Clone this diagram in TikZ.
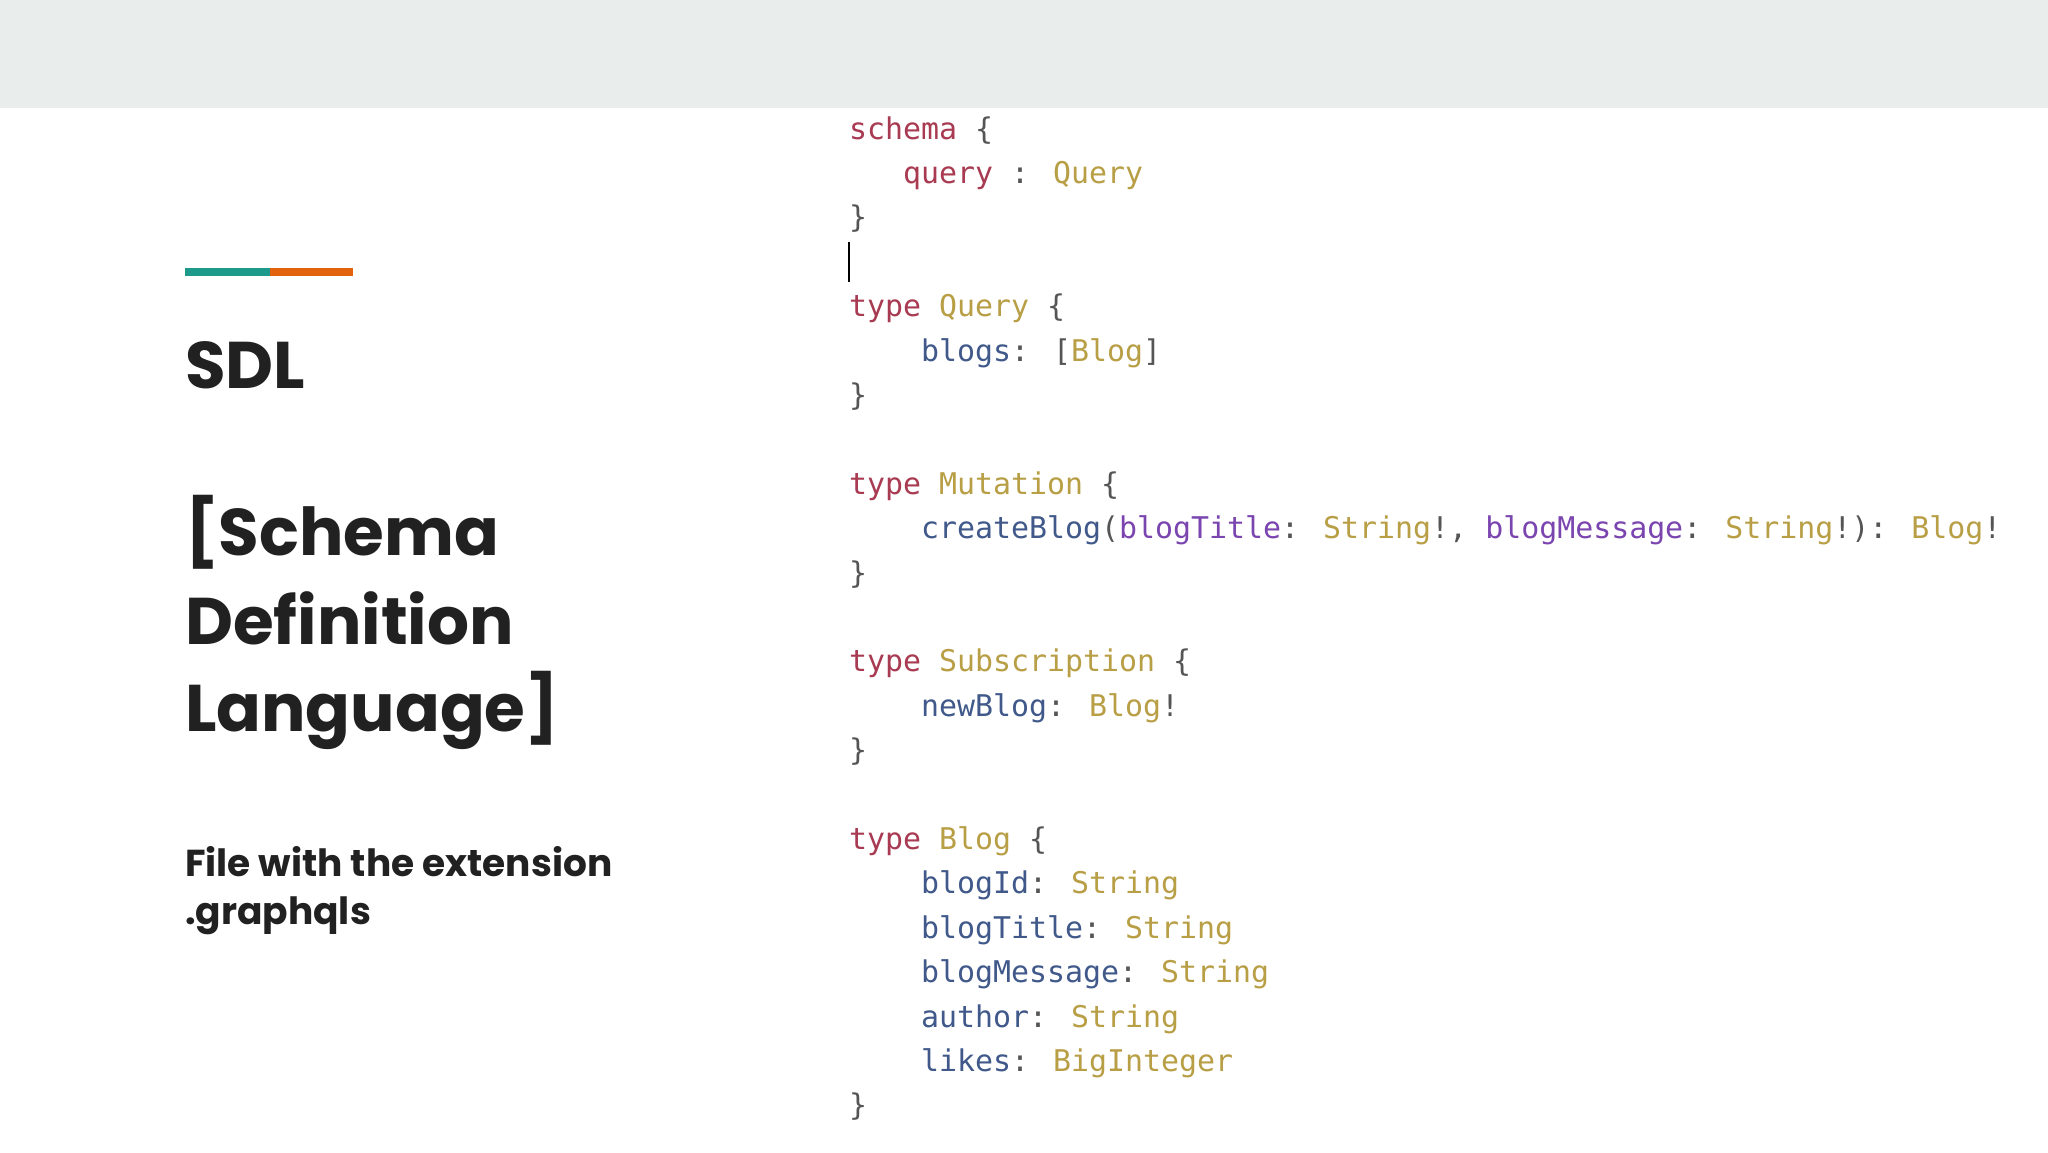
\documentclass[tikz,border=0pt]{standalone}
\usepackage{fontspec}
\setmainfont{Poppins}
\newfontfamily\codefont{DejaVu Sans Mono}
\definecolor{band}{HTML}{E9EEED}
\definecolor{teal}{HTML}{1E9A8C}
\definecolor{orng}{HTML}{E3620E}
\definecolor{kw}{HTML}{A83A52}
\definecolor{ty}{HTML}{B89E45}
\definecolor{fld}{HTML}{40598A}
\definecolor{arg}{HTML}{7B45B0}
\definecolor{pun}{HTML}{555555}
\definecolor{ink}{HTML}{212121}
\newcommand{\K}[1]{\textcolor{kw}{#1}}
\newcommand{\T}[1]{\textcolor{ty}{#1}}
\newcommand{\F}[1]{\textcolor{fld}{#1}}
\newcommand{\A}[1]{\textcolor{arg}{#1}}
\begin{document}
\begin{tikzpicture}[x=1pt,y=-1pt,
  code/.style={anchor=base west,inner sep=0pt,font=\codefont\fontsize{29.9}{36}\selectfont,text=pun},
  ttl/.style={anchor=base west,inner sep=0pt,font=\fontsize{66}{80}\selectfont\bfseries,text=ink},
  sub/.style={anchor=base west,inner sep=0pt,font=\fontsize{37.5}{44}\selectfont\bfseries,text=ink}]
\useasboundingbox (0,0) rectangle (2048,1152);
\fill[white] (0,0) rectangle (2048,1152);
\fill[band] (0,0) rectangle (2048,108);
\fill[teal] (185,268) rectangle (270,276);
\fill[orng] (270,268) rectangle (353,276);
\node[ttl] (t1) at (185,388) {SDL};
\node[ttl] (t2) at (185,555) {[Schema};
\node[ttl] (t3) at (185,644) {Definition};
\node[ttl] (t4) at (185,731) {Language]};
\node[sub] (s1) at (185,876) {File with the extension};
\node[sub] (s2) at (185,924) {.graphqls};
\draw[black,line width=2pt] (849,242) -- (849,282);
\def\cx{849}\def\cw{18.0}
\node[code] (c0) at (\cx,139) {\K{schema} \{};
\node[code] (c1) at (\cx+3*\cw,183.4) {\K{query} : \T{Query}};
\node[code] (c2) at (\cx,227.8) {\}};
\node[code] (c4) at (\cx,316.6) {\K{type} \T{Query} \{};
\node[code] (c5) at (\cx+4*\cw,361) {\F{blogs}: [\T{Blog}]};
\node[code] (c6) at (\cx,405.4) {\}};
\node[code] (c8) at (\cx,494.2) {\K{type} \T{Mutation} \{};
\node[code] (c9) at (\cx+4*\cw,538.6) {\F{createBlog}(\A{blogTitle}: \T{String}!, \A{blogMessage}: \T{String}!): \T{Blog}!};
\node[code] (c10) at (\cx,583) {\}};
\node[code] (c12) at (\cx,671.8) {\K{type} \T{Subscription} \{};
\node[code] (c13) at (\cx+4*\cw,716.2) {\F{newBlog}: \T{Blog}!};
\node[code] (c14) at (\cx,760.6) {\}};
\node[code] (c16) at (\cx,849.4) {\K{type} \T{Blog} \{};
\node[code] (c17) at (\cx+4*\cw,893.8) {\F{blogId}: \T{String}};
\node[code] (c18) at (\cx+4*\cw,938.2) {\F{blogTitle}: \T{String}};
\node[code] (c19) at (\cx+4*\cw,982.6) {\F{blogMessage}: \T{String}};
\node[code] (c20) at (\cx+4*\cw,1027) {\F{author}: \T{String}};
\node[code] (c21) at (\cx+4*\cw,1071.4) {\F{likes}: \T{BigInteger}};
\node[code] (c22) at (\cx,1115.8) {\}};
\end{tikzpicture}
\end{document}
